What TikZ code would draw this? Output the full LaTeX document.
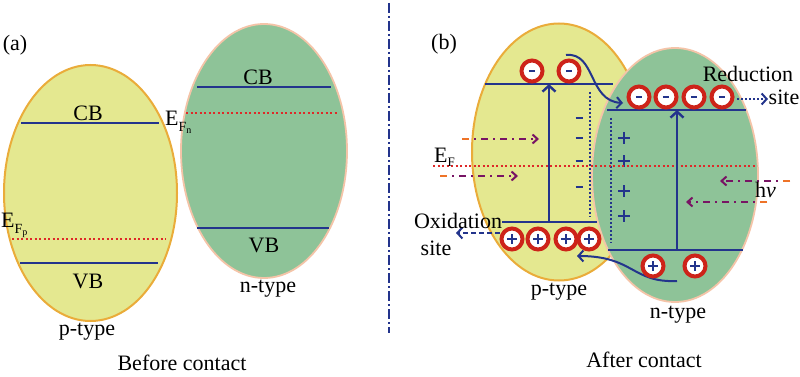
\documentclass[tikz,border=0pt]{standalone}
\usepackage{fontspec}
\setmainfont{Liberation Serif}
\usetikzlibrary{shapes.geometric,arrows.meta}
\definecolor{yfill}{RGB}{228,232,144}
\definecolor{yout}{RGB}{234,172,58}
\definecolor{gfill}{RGB}{142,195,152}
\definecolor{gout}{RGB}{244,196,168}
\definecolor{navy}{RGB}{35,52,140}
\definecolor{fred}{RGB}{222,40,40}
\definecolor{ringred}{RGB}{205,35,25}
\definecolor{purp}{RGB}{120,20,100}
\definecolor{orng}{RGB}{238,115,40}
\newcommand{\EFsub}[1]{E\raisebox{-6pt}{\fontsize{14}{14}\selectfont F\raisebox{-2pt}{\fontsize{10}{10}\selectfont #1}}}
\begin{document}
\begin{tikzpicture}[x=1pt,y=-1pt,
  lbl/.style={font=\fontsize{22}{26}\selectfont, anchor=base, inner sep=0pt},
  pell/.style={ellipse, draw=yout, fill=yfill, line width=2pt, inner sep=0pt},
  nell/.style={ellipse, draw=gout, fill=gfill, line width=1.8pt, inner sep=0pt},
  band/.style={draw=navy, line width=2.2pt},
  fermi/.style={draw=fred, line width=1.8pt, dash pattern=on 2pt off 2.5pt},
  vdots/.style={draw=navy, line width=1.8pt, dash pattern=on 1.8pt off 2.2pt},
  excite/.style={draw=navy, line width=2.4pt, -{Straight Barb[length=6pt,width=13pt]}},
  flow/.style={draw=navy, line width=2pt, -{Straight Barb[length=5pt,width=11pt]}},
  light/.style={draw=purp, line width=2pt, dash pattern=on 7pt off 5pt on 2pt off 5pt, -{Straight Barb[length=5pt,width=9pt]}},
  lighttail/.style={draw=orng, line width=2pt},
  divider/.style={draw=navy, line width=1.8pt, dash pattern=on 10pt off 3pt on 2pt off 3pt},
  charge/.style={circle, draw=ringred, line width=4pt, fill=white, minimum size=21pt, inner sep=0pt},
  electron/.style={charge, path picture={\draw[navy, line width=2.6pt] ([xshift=-3.2pt]path picture bounding box.center) -- ([xshift=3.2pt]path picture bounding box.center);}},
  hole/.style={charge, path picture={\draw[navy, line width=2.6pt] ([xshift=-5pt]path picture bounding box.center) -- ([xshift=5pt]path picture bounding box.center) ([yshift=-5pt]path picture bounding box.center) -- ([yshift=5pt]path picture bounding box.center);}},
  sign/.style={draw=navy, line width=2.8pt}
]
\useasboundingbox (0,0) rectangle (800,377);

% ---------------- (a) Before contact ----------------
\node[pell, minimum width=173pt, minimum height=256pt] (pA) at (90.5,193) {};
\node[nell, minimum width=166pt, minimum height=254pt] (nA) at (264,151) {};

\coordinate (pAcb1) at (21,123); \coordinate (pAcb2) at (159,123);
\coordinate (pAvb1) at (20,263); \coordinate (pAvb2) at (158,263);
\coordinate (pAef1) at (12,239); \coordinate (pAef2) at (166,239);
\draw[band] (pAcb1) -- (pAcb2);
\draw[band] (pAvb1) -- (pAvb2);
\draw[fermi] (pAef1) -- (pAef2);

\coordinate (nAcb1) at (197,87); \coordinate (nAcb2) at (331,87);
\coordinate (nAvb1) at (197,228); \coordinate (nAvb2) at (329,228);
\coordinate (nAef1) at (186,113); \coordinate (nAef2) at (337,113);
\draw[band] (nAcb1) -- (nAcb2);
\draw[band] (nAvb1) -- (nAvb2);
\draw[fermi] (nAef1) -- (nAef2);

\node[lbl] (la) at (15,51) {(a)};
\node[lbl] (cbA) at (88,121) {CB};
\node[lbl] (vbA) at (88,288) {VB};
\node[lbl] (cbnA) at (258,85) {CB};
\node[lbl] (vbnA) at (264,252) {VB};
\node[lbl] (ptA) at (87,335) {p-type};
\node[lbl] (ntA) at (268,292) {n-type};
\node[lbl] (before) at (182,370) {Before contact};
\node[lbl, anchor=base west] (efn) at (165,125) {\EFsub{n}};
\node[lbl, anchor=base west] (efp) at (1,227) {\EFsub{p}};

% divider
\coordinate (d1) at (389,3); \coordinate (d2) at (389,333);
\draw[divider] (d1) -- (d2);

% ---------------- (b) After contact ----------------
\node[pell, minimum width=174pt, minimum height=257pt] (pB) at (559,152) {};
\node[nell, minimum width=166pt, minimum height=254pt] (nB) at (675,175) {};

\coordinate (pBcb1) at (485,84); \coordinate (pBcb2) at (613,84);
\coordinate (pBvb1) at (502,222); \coordinate (pBvb2) at (597,222);
\coordinate (nBcb1) at (607,110); \coordinate (nBcb2) at (746,110);
\coordinate (nBvb1) at (608,250); \coordinate (nBvb2) at (743,250);
\draw[band] (pBcb1) -- (pBcb2);
\draw[band] (pBvb1) -- (pBvb2);
\draw[band] (nBcb1) -- (nBcb2);
\draw[band] (nBvb1) -- (nBvb2);

\coordinate (pdot1) at (590,92); \coordinate (pdot2) at (590,217);
\coordinate (ndot1) at (611,118); \coordinate (ndot2) at (611,243);
\draw[vdots] (pdot1) -- (pdot2);
\draw[vdots] (ndot1) -- (ndot2);

% space charges
\foreach \yy in {118,138,161,187} \draw[sign] (575.5,\yy) -- (582.5,\yy);
\foreach \yy in {138,161,191,216} \draw[sign] (618,\yy) -- (630,\yy) (624,\yy-6) -- (624,\yy+6);

% Fermi level
\coordinate (bef1) at (433,166); \coordinate (bef2) at (757,166);
\draw[fermi] (bef1) -- (bef2);

% excitation arrows
\coordinate (pex1) at (549,222); \coordinate (pex2) at (549,84);
\coordinate (nex1) at (677,250); \coordinate (nex2) at (677,110);
\draw[excite] (pex1) -- (pex2);
\draw[excite] (nex1) -- (nex2);

% light arrows
\coordinate (l1s) at (462,139); \coordinate (l1e) at (539,139);
\coordinate (l2s) at (440,176); \coordinate (l2e) at (518,176);
\coordinate (l3s) at (790,181); \coordinate (l3e) at (720,181);
\coordinate (l4s) at (767,202); \coordinate (l4e) at (686,202);
\draw[light] (l1s) -- (l1e);
\draw[light] (l2s) -- (l2e);
\draw[light] (l3s) -- (l3e);
\draw[light] (l4s) -- (l4e);
\draw[lighttail] (l1s) -- ++(7,0);
\draw[lighttail] (l2s) -- ++(7,0);
\draw[lighttail] (l3s) -- ++(-7,0);
\draw[lighttail] (l4s) -- ++(-7,0);

% transfer arrows
\coordinate (c1s) at (566,55); \coordinate (c1e) at (623,103);
\draw[flow] (c1s) .. controls (596,52) and (588,101) .. (c1e);
\coordinate (c2s) at (677,281); \coordinate (c2e) at (577,256);
\draw[flow] (c2s) .. controls (632,283) and (634,256) .. (c2e);

% electrons and holes
\node[electron] (e1) at (532,71) {};
\node[electron] (e2) at (569,71) {};
\node[electron] (e3) at (639,97) {};
\node[electron] (e4) at (666,97) {};
\node[electron] (e5) at (694,97) {};
\node[electron] (e6) at (722,97) {};
\node[hole] (h1) at (512,239) {};
\node[hole] (h2) at (538,239) {};
\node[hole] (h3) at (566,239) {};
\node[hole] (h4) at (589,239) {};
\node[hole] (h5) at (653,266) {};
\node[hole] (h6) at (695,266) {};

% site arrows
\coordinate (red1) at (737,99); \coordinate (red2) at (768,99);
\draw[flow, dash pattern=on 2pt off 2pt] (red1) -- (red2);
\coordinate (ox1) at (500,233); \coordinate (ox2) at (456,233);
\draw[flow, dash pattern=on 5pt off 3pt] (ox1) -- (ox2);

% labels
\node[lbl] (lb) at (444,50) {(b)};
\node[lbl] (redn) at (748,82) {Reduction};
\node[lbl] (reds) at (784,105) {site};
\node[lbl] (oxn) at (458,228) {Oxidation};
\node[lbl] (oxs) at (436,255) {site};
\node[lbl] (ptB) at (559,295) {p-type};
\node[lbl] (ntB) at (678,318) {n-type};
\node[lbl] (after) at (644,367) {After contact};
\node[lbl, anchor=base west] (efB) at (434,162) {E\raisebox{-4pt}{\fontsize{13}{13}\selectfont F}};
\node[lbl, anchor=base west] (hnu) at (755,197) {h\textit{ν}};
\end{tikzpicture}
\end{document}
